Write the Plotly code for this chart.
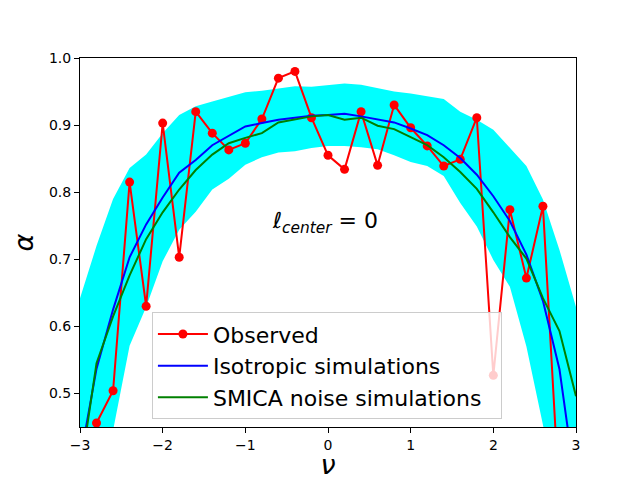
import plotly.graph_objects as go

# grid of nu values (thresholds)
nu = [-3.0, -2.8, -2.6, -2.4, -2.2, -2.0, -1.8, -1.6, -1.4, -1.2, -1.0,
      -0.8, -0.6, -0.4, -0.2, 0.0, 0.2, 0.4, 0.6, 0.8, 1.0,
      1.2, 1.4, 1.6, 1.8, 2.0, 2.2, 2.4, 2.6, 2.8, 3.0]

nu_obs = nu[1:-1]
observed = [0.456, 0.504, 0.815, 0.630, 0.903, 0.703, 0.920, 0.888, 0.863, 0.873,
            0.909, 0.970, 0.980, 0.911, 0.855, 0.834, 0.920, 0.840, 0.930, 0.896,
            0.869, 0.839, 0.849, 0.911, 0.527, 0.774, 0.672, 0.779, 0.34]

isotropic = [0.40, 0.537, 0.625, 0.703, 0.752, 0.792, 0.829, 0.848, 0.870, 0.884, 0.898,
             0.903, 0.908, 0.911, 0.914, 0.915, 0.917, 0.913, 0.909, 0.904, 0.895,
             0.885, 0.870, 0.851, 0.826, 0.794, 0.757, 0.707, 0.638, 0.536, 0.36]

smica = [0.38, 0.545, 0.615, 0.676, 0.730, 0.770, 0.804, 0.833, 0.856, 0.873, 0.881,
         0.888, 0.904, 0.909, 0.913, 0.915, 0.908, 0.911, 0.899, 0.894, 0.882,
         0.870, 0.852, 0.830, 0.805, 0.770, 0.733, 0.701, 0.642, 0.593, 0.496]

# spread of the isotropic simulations
band_upper = [0.642, 0.720, 0.790, 0.836, 0.856, 0.888, 0.915, 0.928, 0.935, 0.942, 0.949,
              0.951, 0.955, 0.958, 0.957, 0.960, 0.962, 0.960, 0.955, 0.950, 0.947,
              0.943, 0.939, 0.920, 0.908, 0.893, 0.866, 0.839, 0.789, 0.714, 0.629]
band_lower = [0.22, 0.33, 0.445, 0.571, 0.629, 0.697, 0.744, 0.771, 0.804, 0.820, 0.841,
              0.852, 0.859, 0.861, 0.866, 0.869, 0.869, 0.867, 0.864, 0.855, 0.845,
              0.839, 0.824, 0.784, 0.749, 0.699, 0.659, 0.570, 0.45, 0.34, 0.22]

xticks = [-3, -2, -1, 0, 1, 2, 3]
xtick_labels = ["\u22123", "\u22122", "\u22121", "0", "1", "2", "3"]
yticks = [0.5, 0.6, 0.7, 0.8, 0.9, 1.0]
ytick_labels = ["0.5", "0.6", "0.7", "0.8", "0.9", "1.0"]

fig = go.Figure()

# banda cian
fig.add_trace(go.Scatter(x=nu, y=band_lower, mode="lines", line=dict(width=0, color="cyan"),
                         showlegend=False, hoverinfo="skip"))
fig.add_trace(go.Scatter(x=nu, y=band_upper, mode="lines", line=dict(width=0, color="cyan"),
                         fill="tonexty", fillcolor="cyan", showlegend=False, hoverinfo="skip"))

fig.add_trace(go.Scatter(x=nu_obs, y=observed, mode="lines+markers", name="Observed",
                         line=dict(color="red", width=2), marker=dict(color="red", size=9)))
fig.add_trace(go.Scatter(x=nu, y=isotropic, mode="lines", name="Isotropic simulations",
                         line=dict(color="blue", width=2)))
# trailing nbsp widens the legend box like matplotlib's padding
fig.add_trace(go.Scatter(x=nu, y=smica, mode="lines", name="SMICA noise simulations\u00a0\u00a0",
                         line=dict(color="green", width=2)))

fig.add_annotation(x=-0.7, y=0.755, xref="x", yref="y", xanchor="left", yanchor="middle",
                   text="<i>\u2113</i><sub><i>center</i></sub> = 0", showarrow=False,
                   font=dict(size=22, color="black"))

# the page body has an 8px margin, so the figure is a bit smaller than the window
fig.update_layout(
    width=632, height=472,
    margin=dict(l=72, r=64, t=50, b=53),
    paper_bgcolor="white", plot_bgcolor="white",
    font=dict(family="DejaVu Sans", color="black"),
    legend=dict(x=0.145, y=0.311, xanchor="left", yanchor="top", traceorder="normal",
                bgcolor="rgba(255,255,255,0.8)", bordercolor="#cccccc", borderwidth=1,
                font=dict(size=22), tracegroupgap=0, itemwidth=50),
)
fig.update_xaxes(range=[-3, 3], tickvals=xticks, ticktext=xtick_labels, automargin=False,
                 showline=True, linecolor="black", linewidth=1, mirror=True,
                 ticks="outside", ticklen=5, tickcolor="black", showgrid=False, zeroline=False,
                 tickfont=dict(size=14),
                 title=dict(text="<i>\u03bd</i>", font=dict(size=27), standoff=5))
fig.update_yaxes(range=[0.45, 1.0], tickvals=yticks, ticktext=ytick_labels, automargin=False,
                 showline=True, linecolor="black", linewidth=1, mirror=True,
                 ticks="outside", ticklen=5, tickcolor="black", showgrid=False, zeroline=False,
                 tickfont=dict(size=14),
                 title=dict(text="<i>\u03b1</i>", font=dict(size=27), standoff=8))

fig.write_html("out.html")
